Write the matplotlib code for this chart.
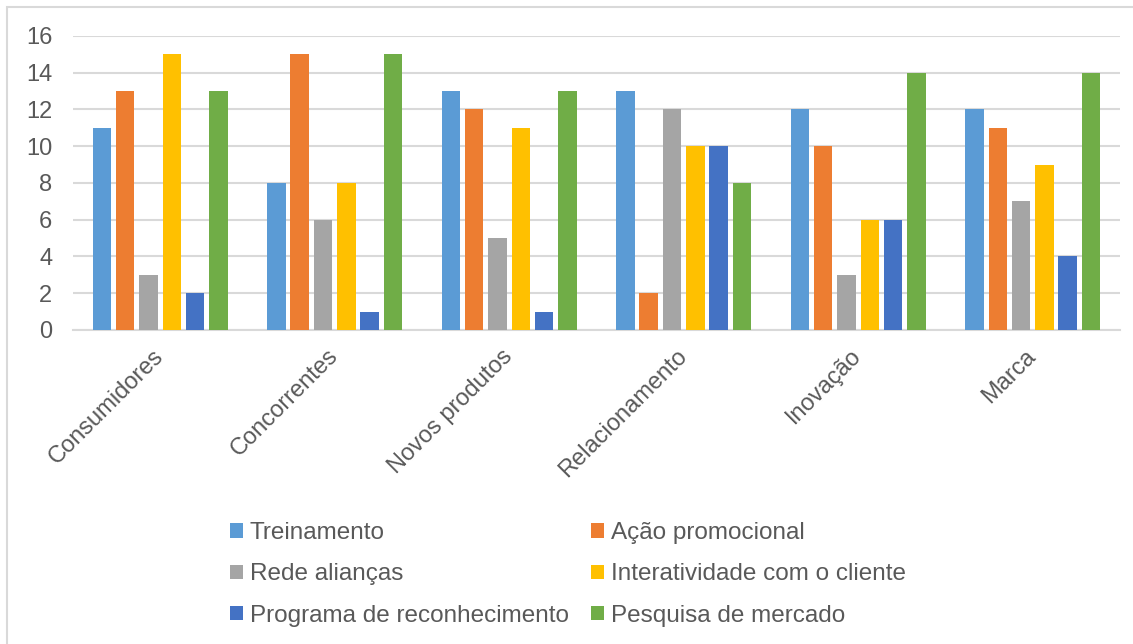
import numpy as np
import matplotlib
matplotlib.use('Agg')
import matplotlib.pyplot as plt
from matplotlib.patches import Rectangle, Patch

plt.rcParams['font.family'] = ['Liberation Sans', 'DejaVu Sans']

# Data
categories = ['Consumidores', 'Concorrentes', 'Novos produtos', 'Relacionamento', 'Inovação', 'Marca']
series_names = ['Treinamento', 'Ação promocional', 'Rede alianças',
                'Interatividade com o cliente', 'Programa de reconhecimento', 'Pesquisa de mercado']
treinamento = [11, 8, 13, 13, 12, 12]
acao_promocional = [13, 15, 12, 2, 10, 11]
rede_aliancas = [3, 6, 5, 12, 3, 7]
interatividade = [15, 8, 11, 10, 6, 9]
programa = [2, 1, 1, 10, 6, 4]
pesquisa = [13, 15, 13, 8, 14, 14]
y_ticks = [0, 2, 4, 6, 8, 10, 12, 14, 16]

series = [treinamento, acao_promocional, rede_aliancas, interatividade, programa, pesquisa]
colors = ['#5B9BD5', '#ED7D31', '#A5A5A5', '#FFC000', '#4472C4', '#70AD47']
text_color = '#595959'
grid_color = '#D9D9D9'

fig = plt.figure(figsize=(11.33, 6.44), dpi=100)
ax = fig.add_axes([0.0644, 0.4876, 0.9241, 0.4565])

x = np.arange(len(categories))
step = 0.1336
bar_w = 0.106
handles = []
for i, (vals, col) in enumerate(zip(series, colors)):
    offset = (i - 2.5) * step
    ax.bar(x + offset, vals, width=bar_w, color=col, zorder=3)
    handles.append(Patch(facecolor=col, edgecolor='none'))

ax.set_xlim(-0.5, len(categories) - 0.5)
ax.set_ylim(0, 16)
ax.set_yticks(y_ticks)
ax.set_yticklabels([str(t) for t in y_ticks], fontsize=17, color=text_color)
ax.yaxis.grid(True, color=grid_color, linewidth=1.5, zorder=0)
ax.tick_params(axis='y', length=0, pad=15)
ax.tick_params(axis='x', length=0, pad=16.5)
ax.set_xticks(x)
ax.set_xticklabels(categories, rotation=45, ha='right', va='center',
                   rotation_mode='anchor', fontsize=17, color=text_color)
for s in ['top', 'right', 'left']:
    ax.spines[s].set_visible(False)
ax.spines['bottom'].set_color(grid_color)
ax.spines['bottom'].set_linewidth(1.5)

# legend is filled column by column, so reorder to read row by row
order = [0, 2, 4, 1, 3, 5]
fig.legend([handles[i] for i in order], [series_names[i] for i in order],
           ncol=2, loc='upper left', bbox_to_anchor=(0.192, 0.208),
           frameon=False, fontsize=17.5, labelcolor=text_color, borderpad=0,
           handlelength=0.535, handleheight=0.535, handletextpad=0.29,
           columnspacing=0.91, labelspacing=0.79)

# outer chart border (cropped at right and bottom)
fig.patches.append(Rectangle((7 / 1133, -0.1), 1.2, 1 - 7 / 644 + 0.1,
                             transform=fig.transFigure, fill=False,
                             edgecolor=grid_color, linewidth=1.5))

fig.savefig('out.png', dpi=100)
